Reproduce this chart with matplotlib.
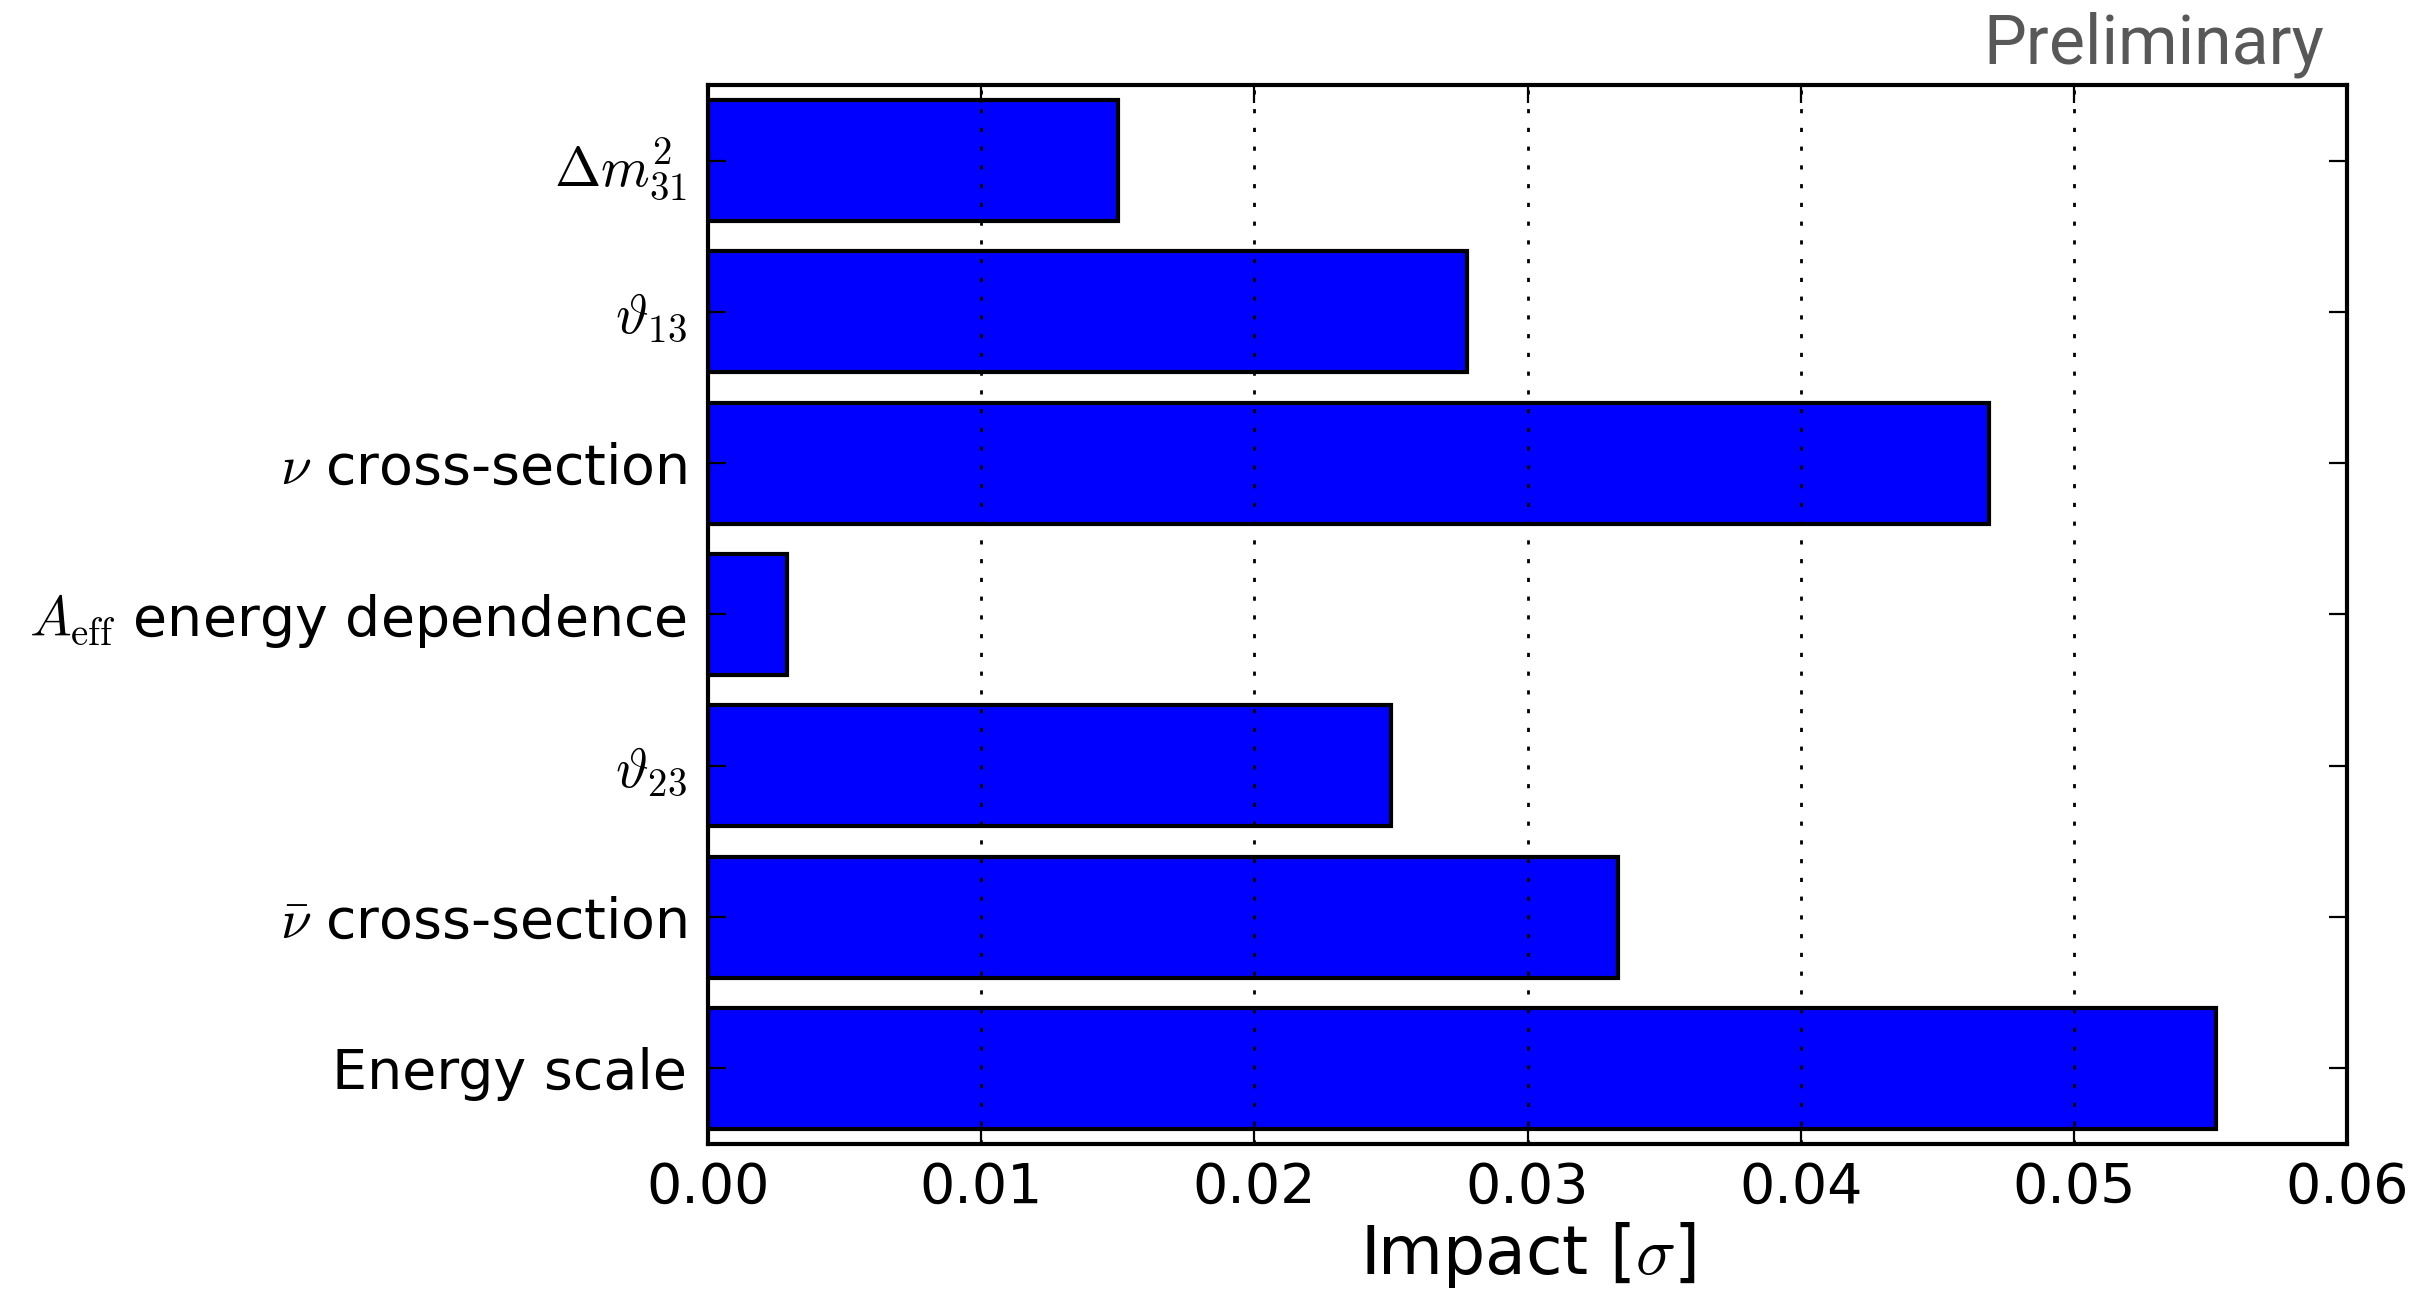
import matplotlib
matplotlib.use("Agg")
import matplotlib.pyplot as plt
import numpy as np

# Systematic parameters, listed top to bottom
parameters = [
    r"$\Delta m_{31}^2$",
    r"$\vartheta_{13}$",
    r"$\nu$ cross-section",
    r"$A_{\mathrm{eff}}$ energy dependence",
    r"$\vartheta_{23}$",
    r"$\bar{\nu}$ cross-section",
    "Energy scale",
]
impact = [0.0150, 0.0278, 0.0469, 0.0029, 0.0250, 0.0333, 0.0552]
xticks = [0.00, 0.01, 0.02, 0.03, 0.04, 0.05, 0.06]

plt.rcParams["font.family"] = ["DejaVu Sans"]
plt.rcParams["mathtext.fontset"] = "cm"
plt.rcParams["lines.scale_dashes"] = False

fig = plt.figure(figsize=(24.34, 12.92), dpi=100)
ax = fig.add_axes([0.2909, 0.1146, 0.9643 - 0.2909, 0.9342 - 0.1146])

n = len(parameters)
ypos = np.arange(n)[::-1]
ax.barh(ypos, impact, height=0.8, align="center", color="#0000ff",
        edgecolor="black", linewidth=3.0, zorder=2)

ax.set_xlim(0, 0.06)
ax.set_ylim(-0.5, n - 0.5)
ax.set_xticks(xticks)
ax.set_xticklabels([f"{v:.2f}" for v in xticks])
ax.set_yticks(ypos)
ax.set_yticklabels(parameters)

ax.xaxis.grid(True, color="black", linestyle=(0, (3, 10.5)), linewidth=2.0,
              zorder=3)
ax.set_axisbelow(False)

for s in ax.spines.values():
    s.set_linewidth(3.0)
    s.set_zorder(4)

ax.tick_params(axis="both", which="major", direction="in", length=13,
               width=1.6, top=True, right=True, labelsize=40)
ax.tick_params(axis="x", pad=12)
ax.tick_params(axis="y", pad=15)

ax.set_xlabel(r"Impact [$\sigma$]", fontsize=48, labelpad=4)

fig.text(0.9548, 0.951, "Preliminary", ha="right", va="baseline",
         fontsize=49, color="#585858", family=["Roboto", "DejaVu Sans"],
         fontweight="normal")

fig.savefig("out.png", dpi=100)
